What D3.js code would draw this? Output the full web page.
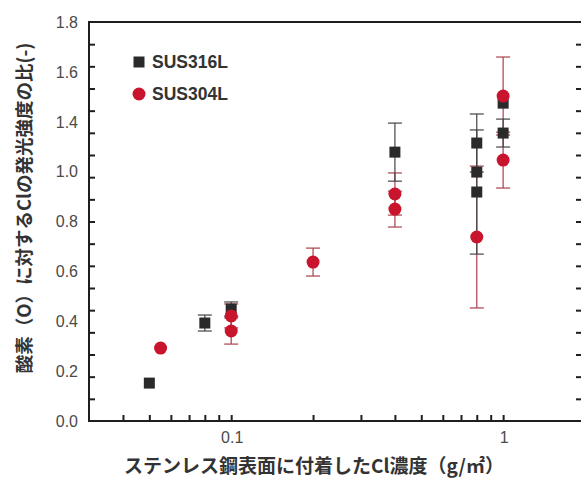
<!DOCTYPE html>
<html>
<head>
<meta charset="utf-8">
<script src="https://cdn.jsdelivr.net/npm/d3@7"></script>
<style>
  body { margin: 0; background: #fff; }
  svg { display: block; }
</style>
</head>
<body>
<div class="chart"></div>
<script>
// SUS316L (squares)
var xSquare = [0.05, 0.08, 0.1, 0.4, 0.8, 0.8, 0.8, 1.0, 1.0];
var ySquare = [0.171, 0.442, 0.505, 1.213, 1.254, 1.123, 1.033, 1.434, 1.299];
var eSquare = [0, 0.036, 0.032, 0.131, 0.131, 0, 0.28, 0, 0.063];

// SUS304L (circles)
var xCircle = [0.055, 0.1, 0.1, 0.2, 0.4, 0.4, 0.8, 1.0, 1.0];
var yCircle = [0.329, 0.474, 0.406, 0.717, 1.024, 0.956, 0.830, 1.466, 1.177];
var eCircle = [0, 0.054, 0.059, 0.063, 0.095, 0.081, 0.32, 0.176, 0.126];

// tick labels as printed on the original figure
var yLabels = ["0.0", "0.2", "0.4", "0.6", "0.8", "1.0", "1.4", "1.6", "1.8"];
var xLabels = { 0.1: "0.1", 1: "1" };
var seriesNames = ["SUS316L", "SUS304L"];

var W = 581, H = 481;
// note: "top" is reserved on window, so plot edges get their own names
var plotL = 89, plotR = 582, plotT = 22, plotB = 421;

var svg = d3.select(".chart").append("svg")
    .attr("width", W)
    .attr("height", H);

var x = d3.scaleLog().domain([0.03, 1.95]).range([plotL, plotR]);
var y = d3.scaleLinear().domain([0, 1.8]).range([plotB, plotT]);
var yLab = d3.scalePoint().domain(yLabels).range([plotB, plotT]);

var minor = d3.range(1, 18).map(function(i) { return i / 10; });

// frame
svg.append("rect")
    .attr("x", plotL).attr("y", plotT)
    .attr("width", plotR - plotL).attr("height", plotB - plotT)
    .style("fill", "none").style("stroke", "#1e1e1e").style("stroke-width", 2);

function tickStyle(g) {
    g.select(".domain").remove();
    g.selectAll("line").style("stroke", "#1e1e1e").style("stroke-width", 2);
}

// y ticks, inward on both sides
svg.append("g").attr("transform", "translate(" + plotL + ",0)")
    .call(d3.axisRight(y).tickValues(minor).tickSize(6).tickFormat(""))
    .call(tickStyle);
svg.append("g").attr("transform", "translate(" + plotR + ",0)")
    .call(d3.axisLeft(y).tickValues(minor).tickSize(6).tickFormat(""))
    .call(tickStyle);

var numFont = "Liberation Sans, Arial, sans-serif";

// y labels
svg.append("g").selectAll("text").data(yLabels).enter()
    .append("text")
    .attr("x", 78)
    .attr("y", function(d) { return yLab(d); })
    .attr("dy", "0.36em")
    .attr("text-anchor", "end")
    .style("font-family", numFont)
    .style("font-size", "16px")
    .style("fill", "#4a4a4a")
    .text(function(d) { return d; });

// x ticks, inward
var xTicks = x.ticks().filter(function(d) { return d > 0.031 && d <= 1; });
svg.append("g").attr("transform", "translate(0," + plotB + ")")
    .call(d3.axisTop(x).tickValues(xTicks).tickSize(6).tickFormat(""))
    .call(tickStyle);

svg.append("g").selectAll("text").data([0.1, 1]).enter()
    .append("text")
    .attr("x", function(d) { return x(d) + 1; })
    .attr("y", 443)
    .attr("text-anchor", "middle")
    .style("font-family", numFont)
    .style("font-size", "16px")
    .style("fill", "#4a4a4a")
    .text(function(d) { return xLabels[d]; });

// axis titles
svg.append("text")
    .attr("transform", "translate(31,208) rotate(-90)")
    .attr("text-anchor", "middle")
    .style("font-family", "Noto Sans CJK JP, sans-serif")
    .style("font-weight", "bold")
    .style("font-size", "18.5px")
    .style("fill", "#333")
    .text("酸素（O）に対するClの発光強度の比(-)");

svg.append("text")
    .attr("x", 314).attr("y", 473)
    .attr("text-anchor", "middle")
    .style("font-family", "Noto Sans CJK JP, sans-serif")
    .style("font-weight", "bold")
    .style("font-size", "19px")
    .style("fill", "#333")
    .text("ステンレス鋼表面に付着したCl濃度（g/㎡）");

function pts(xs, ys, es) {
    return xs.map(function(d, i) { return { x: d, y: ys[i], e: es[i] }; });
}
var sq = pts(xSquare, ySquare, eSquare);
var ci = pts(xCircle, yCircle, eCircle);

function errorBars(data, color) {
    var g = svg.append("g").style("stroke", color).style("stroke-width", 1.2);
    data = data.filter(function(d) { return d.e > 0; });
    g.selectAll(".v").data(data).enter().append("line")
        .attr("x1", function(d) { return x(d.x); })
        .attr("x2", function(d) { return x(d.x); })
        .attr("y1", function(d) { return y(d.y - d.e); })
        .attr("y2", function(d) { return y(d.y + d.e); });
    [-1, 1].forEach(function(s) {
        g.selectAll(".c" + s).data(data).enter().append("line")
            .attr("x1", function(d) { return x(d.x) - 7; })
            .attr("x2", function(d) { return x(d.x) + 7; })
            .attr("y1", function(d) { return y(d.y + s * d.e); })
            .attr("y2", function(d) { return y(d.y + s * d.e); });
    });
}

errorBars(ci, "#a8404c");
errorBars(sq, "#444");

var SQ = 11, R = 6.5;
var sqColor = "#2a2a2a", ciColor = "#c8142c";

svg.append("g").selectAll("rect").data(sq).enter()
    .append("rect")
    .attr("x", function(d) { return x(d.x) - SQ / 2; })
    .attr("y", function(d) { return y(d.y) - SQ / 2; })
    .attr("width", SQ).attr("height", SQ)
    .style("fill", sqColor);

svg.append("g").selectAll("circle").data(ci).enter()
    .append("circle")
    .attr("cx", function(d) { return x(d.x); })
    .attr("cy", function(d) { return y(d.y); })
    .attr("r", R)
    .style("fill", ciColor);

// legend
var legend = svg.append("g");
legend.append("rect")
    .attr("x", 139 - SQ / 2).attr("y", 62 - SQ / 2)
    .attr("width", SQ).attr("height", SQ)
    .style("fill", sqColor);
legend.append("circle")
    .attr("cx", 139).attr("cy", 94).attr("r", R)
    .style("fill", ciColor);
legend.selectAll("text").data(seriesNames).enter()
    .append("text")
    .attr("x", 152)
    .attr("y", function(d, i) { return 62 + i * 32; })
    .attr("dy", "0.36em")
    .style("font-family", "Liberation Sans, Arial, sans-serif")
    .style("font-weight", "bold")
    .style("font-size", "17.5px")
    .style("fill", "#333")
    .text(function(d) { return d; });
</script>
</body>
</html>
